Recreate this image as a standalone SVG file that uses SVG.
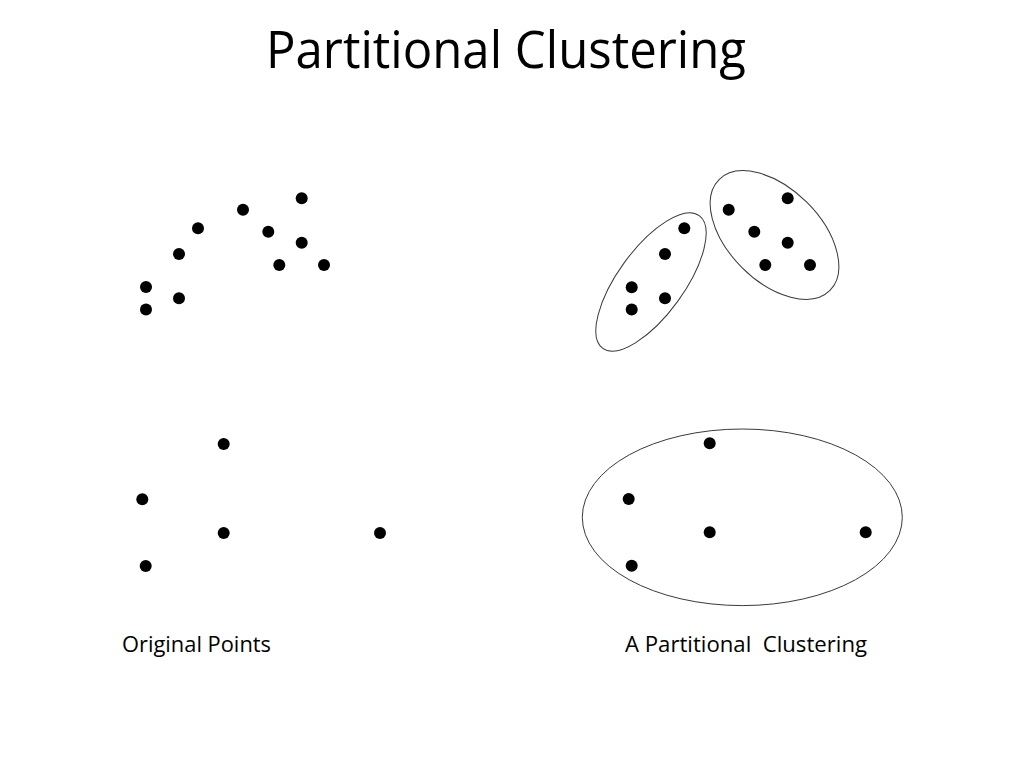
<svg xmlns="http://www.w3.org/2000/svg" width="1024" height="768" viewBox="0 0 1024 768">
<style>
.pt{fill:#000}
.hull{fill:none;stroke:#3a3a3a;stroke-width:1}
.lbl{font-family:"Open Sans","Liberation Sans",sans-serif;font-size:22px;fill:#000;white-space:pre}
.ttl{font-family:"Open Sans","Liberation Sans",sans-serif;font-size:51px;fill:#000}
</style>
<rect width="1024" height="768" fill="#fff"/>
<g id="title"><text class="ttl" x="266" y="68" textLength="480" lengthAdjust="spacingAndGlyphs">Partitional Clustering</text></g>
<g id="original-points">
<circle class="pt" cx="146" cy="287" r="6"/>
<circle class="pt" cx="146" cy="309.5" r="6"/>
<circle class="pt" cx="179" cy="254" r="6"/>
<circle class="pt" cx="179" cy="298.3" r="6"/>
<circle class="pt" cx="198" cy="228.3" r="6"/>
<circle class="pt" cx="243" cy="209.7" r="6"/>
<circle class="pt" cx="268.3" cy="231.7" r="6"/>
<circle class="pt" cx="279.3" cy="265" r="6"/>
<circle class="pt" cx="301.7" cy="198.3" r="6"/>
<circle class="pt" cx="301.7" cy="242.7" r="6"/>
<circle class="pt" cx="324" cy="265" r="6"/>
<circle class="pt" cx="223.7" cy="444" r="6"/>
<circle class="pt" cx="142.3" cy="499.3" r="6"/>
<circle class="pt" cx="223.7" cy="533" r="6"/>
<circle class="pt" cx="380" cy="533" r="6"/>
<circle class="pt" cx="145.7" cy="566" r="6"/>
<text class="lbl" x="122" y="652" textLength="149" lengthAdjust="spacingAndGlyphs">Original Points</text>
</g>
<g id="cluster-1">
<ellipse class="hull" cx="651" cy="282" rx="82" ry="33" transform="rotate(-54 651 282)"/>
<circle class="pt" cx="631.7" cy="287.3" r="6"/>
<circle class="pt" cx="631.7" cy="309.5" r="6"/>
<circle class="pt" cx="665" cy="254" r="6"/>
<circle class="pt" cx="665" cy="298.3" r="6"/>
<circle class="pt" cx="684.3" cy="228.3" r="6"/>
</g>
<g id="cluster-2">
<ellipse class="hull" cx="774.5" cy="235" rx="78.4" ry="46" transform="rotate(45 774.5 235)"/>
<circle class="pt" cx="728.7" cy="209.7" r="6"/>
<circle class="pt" cx="754.3" cy="231.7" r="6"/>
<circle class="pt" cx="765.3" cy="265" r="6"/>
<circle class="pt" cx="787.7" cy="198.3" r="6"/>
<circle class="pt" cx="787.7" cy="242.7" r="6"/>
<circle class="pt" cx="810" cy="265" r="6"/>
</g>
<g id="cluster-3">
<ellipse class="hull" cx="742.3" cy="517.3" rx="160" ry="88.3"/>
<circle class="pt" cx="709.7" cy="443.3" r="6"/>
<circle class="pt" cx="628.7" cy="499" r="6"/>
<circle class="pt" cx="709.7" cy="532.3" r="6"/>
<circle class="pt" cx="865.7" cy="532.3" r="6"/>
<circle class="pt" cx="631.7" cy="565.7" r="6"/>
</g>
<g id="partition-label"><text class="lbl" x="625" y="652" textLength="242" lengthAdjust="spacingAndGlyphs">A Partitional  Clustering</text></g>
<g id="connectors"/>
</svg>
